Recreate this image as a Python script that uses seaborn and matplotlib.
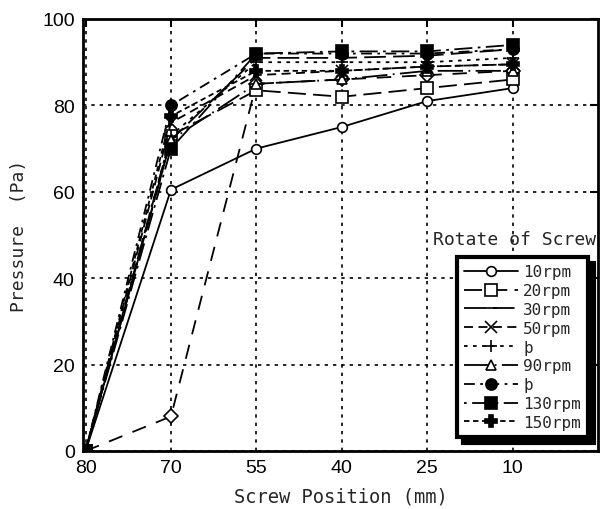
import numpy as np
import pandas as pd
import matplotlib
matplotlib.use("Agg")
import matplotlib.pyplot as plt
import seaborn as sns

positions = ["80", "70", "55", "40", "25", "10"]
labels = ["10rpm", "20rpm", "30rpm", "50rpm", "þ", "90rpm", "þ", "130rpm", "150rpm"]
rpm10 = [0, 60.5, 70, 75, 81, 84]
rpm20 = [0, 73, 83.5, 82, 84, 86]
rpm30 = [0, 72, 91, 91, 91.5, 93]
rpm50 = [0, 76, 87, 88, 89, 89.5]
rpm70 = [0, 73, 90, 90, 90, 91]
rpm90 = [0, 72, 85, 86, 88, 88]
rpm110 = [0, 80, 92, 92, 92, 93]
rpm130 = [0, 70, 92, 92.5, 92.5, 94]
rpm150 = [0, 77.5, 88, 88, 89, 89.5]
extra = [0, 8, 85, 86, 87, 88]

series = [rpm10, rpm20, rpm30, rpm50, rpm70, rpm90, rpm110, rpm130, rpm150]

styles = [
    dict(marker="o", mfc="white", ls="-", ms=7, z=3),
    dict(marker="s", mfc="white", ls=(0, (10, 4)), ms=8, z=3),
    dict(marker="_", mfc="black", ls=(0, (12, 4)), ms=8, z=3),
    dict(marker="x", mfc="black", ls=(0, (5, 3)), ms=8, z=3),
    dict(marker="+", mfc="black", ls=(0, (2, 3)), ms=9, z=3),
    dict(marker="^", mfc="white", ls=(0, (14, 3, 1, 3)), ms=7, z=3),
    dict(marker="o", mfc="black", ls=(0, (6, 3, 1.5, 3)), ms=8, z=3),
    dict(marker="s", mfc="black", ls=(0, (1.5, 3, 10, 3)), ms=8, z=4),
    dict(marker="P", mfc="black", ls=(0, (3, 2)), ms=8, z=3),
]

sns.set_style("white")
plt.rcParams["font.family"] = ["Liberation Sans", "DejaVu Sans"]

fig = plt.figure(figsize=(6.02, 5.10), dpi=100)
ax = fig.add_axes([83 / 602, 58 / 510, 515 / 602, 432 / 510])

xpos = np.arange(len(positions))

dfe = pd.DataFrame({"x": xpos, "y": extra})
sns.lineplot(data=dfe, x="x", y="y", ax=ax, color="black", lw=1.3, marker="D",
             markersize=7, markerfacecolor="white", markeredgecolor="black",
             markeredgewidth=1.2, label="_nolegend_")
ax.lines[-1].set_linestyle((0, (8, 6)))

for lab, vals, st in zip(labels, series, styles):
    df = pd.DataFrame({"x": xpos, "y": vals})
    sns.lineplot(data=df, x="x", y="y", ax=ax, color="black", lw=1.3,
                 marker=st["marker"], markersize=st["ms"], markerfacecolor=st["mfc"],
                 markeredgecolor="black", markeredgewidth=1.2, label=lab)
    ax.lines[-1].set_linestyle(st["ls"])
    ax.lines[-1].set_zorder(st["z"])

ax.set_xlim(-0.03, 6)
ax.set_ylim(0, 100)
ax.set_xticks(xpos)
ax.set_xticklabels(positions)
ax.set_yticks([0, 20, 40, 60, 80, 100])
ax.tick_params(direction="in", length=6, width=1.5, labelsize=14, top=True, right=True,
               colors="black", pad=6)
ax.grid(True, color="black", linestyle=(0, (2, 3)), linewidth=1.2)
for s in ax.spines.values():
    s.set_color("black")
    s.set_linewidth(2)

mono = "DejaVu Sans Mono"
ax.set_xlabel("Screw Position (mm)", fontsize=13.5, family=mono, labelpad=7)
ax.set_ylabel("Pressure  (Pa)", fontsize=13, family=mono, labelpad=10)

ax.text(0.68, 0.49, "Rotate of Screw", transform=ax.transAxes, fontsize=13,
        family=mono, va="center", ha="left")

leg = ax.legend(loc="lower right", bbox_to_anchor=(0.981, 0.032), borderaxespad=0,
                frameon=True, fancybox=False, edgecolor="black", framealpha=1,
                shadow={"color": "black", "alpha": 1, "ox": 4, "oy": -4},
                handlelength=3.4, handletextpad=0.3, labelspacing=0.24,
                borderpad=0.45, prop={"family": mono, "size": 11.5})
leg.get_frame().set_linewidth(3)
leg.set_zorder(10)

fig.savefig("out.png", dpi=100)
